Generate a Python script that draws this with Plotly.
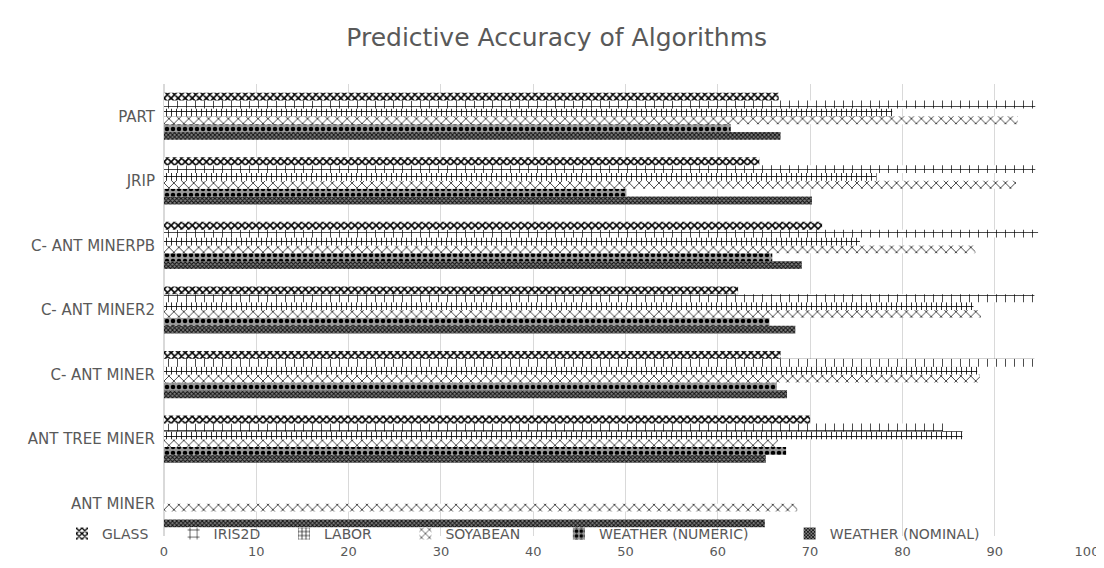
import plotly.graph_objects as go

categories = ["ANT MINER", "ANT TREE MINER", "C- ANT MINER", "C- ANT MINER2",
              "C- ANT MINERPB", "JRIP", "PART"]

glass = [0, 70.0, 66.8, 62.2, 71.3, 64.5, 66.6]
iris2d = [0, 84.4, 94.3, 94.3, 94.7, 94.4, 94.4]
labor = [0, 86.5, 88.1, 87.7, 75.4, 77.2, 78.9]
soyabean = [68.6, 66.5, 88.4, 88.5, 87.9, 92.3, 92.5]
weather_numeric = [0, 67.4, 66.4, 65.6, 65.9, 50.1, 61.4]
weather_nominal = [65.1, 65.2, 67.5, 68.4, 69.1, 70.2, 66.8]

legend_names = ["GLASS", "IRIS2D", "LABOR", "SOYABEAN", "WEATHER (NUMERIC)", "WEATHER (NOMINAL)"]

# drawn bottom-to-top within each group
series = [
    ("WEATHER (NOMINAL)", weather_nominal, dict(shape="x", size=3, solidity=0.55, fgcolor="#111111", bgcolor="#808080")),
    ("WEATHER (NUMERIC)", weather_numeric, dict(shape=".", size=6, solidity=0.45, fgcolor="#000000", bgcolor="#9a9a9a")),
    ("SOYABEAN", soyabean, dict(shape="x", size=7, solidity=0.22, fgcolor="#222222", bgcolor="#ffffff")),
    ("LABOR", labor, dict(shape="+", size=5, solidity=0.3, fgcolor="#000000", bgcolor="#ffffff")),
    ("IRIS2D", iris2d, dict(shape="+", size=9, solidity=0.15, fgcolor="#000000", bgcolor="#ffffff")),
    ("GLASS", glass, dict(shape="x", size=5, solidity=0.55, fgcolor="#000000", bgcolor="#ffffff")),
]

# each legend entry gets its own legend box so the entries can be spaced like the reference
legend_x = [0.0489, 0.1500, 0.2500, 0.3600, 0.4990, 0.7080]

fig = go.Figure()
for name, vals, pat in series:
    idx = legend_names.index(name)
    lid = "legend" if idx == 0 else f"legend{idx + 1}"
    fig.add_trace(go.Bar(
        y=categories, x=vals, name=name, orientation="h", legend=lid,
        marker=dict(color="#000000", line=dict(width=0),
                    pattern=dict(fillmode="replace", **pat)),
    ))

font_family = "'DejaVu Sans', sans-serif"
legend_common = dict(orientation="h", xref="container", yref="container",
                     xanchor="left", yanchor="middle", y=0.074,
                     bgcolor="rgba(0,0,0,0)", itemwidth=30,
                     font=dict(family=font_family, size=14, color="#595959"))
legends = {}
for i, lx in enumerate(legend_x):
    key = "legend" if i == 0 else f"legend{i + 1}"
    legends[key] = dict(x=lx, **legend_common)

fig.update_layout(
    width=1104, height=568,
    barmode="group", bargap=0.27, bargroupgap=0,
    paper_bgcolor="white", plot_bgcolor="white",
    margin=dict(l=156, r=25, t=76, b=40, autoexpand=False),
    title=dict(text="Predictive Accuracy of Algorithms", x=0.497, xanchor="center",
               xref="container", yref="container", y=0.949, yanchor="middle",
               font=dict(family=font_family, size=25, color="#595959")),
    font=dict(family=font_family, size=13, color="#595959"),
    xaxis=dict(range=[0, 100], dtick=10, showgrid=True, gridcolor="#d9d9d9",
               gridwidth=1, zeroline=True, zerolinecolor="#d9d9d9",
               ticklabelstandoff=6,
               tickfont=dict(size=13, color="#595959"), ticks="", fixedrange=True),
    yaxis=dict(categoryorder="array", categoryarray=categories, showgrid=False,
               ticks="", ticklabelstandoff=8,
               tickfont=dict(size=15, color="#595959")),
    showlegend=True,
    **legends,
)

fig.write_html("out.html")
